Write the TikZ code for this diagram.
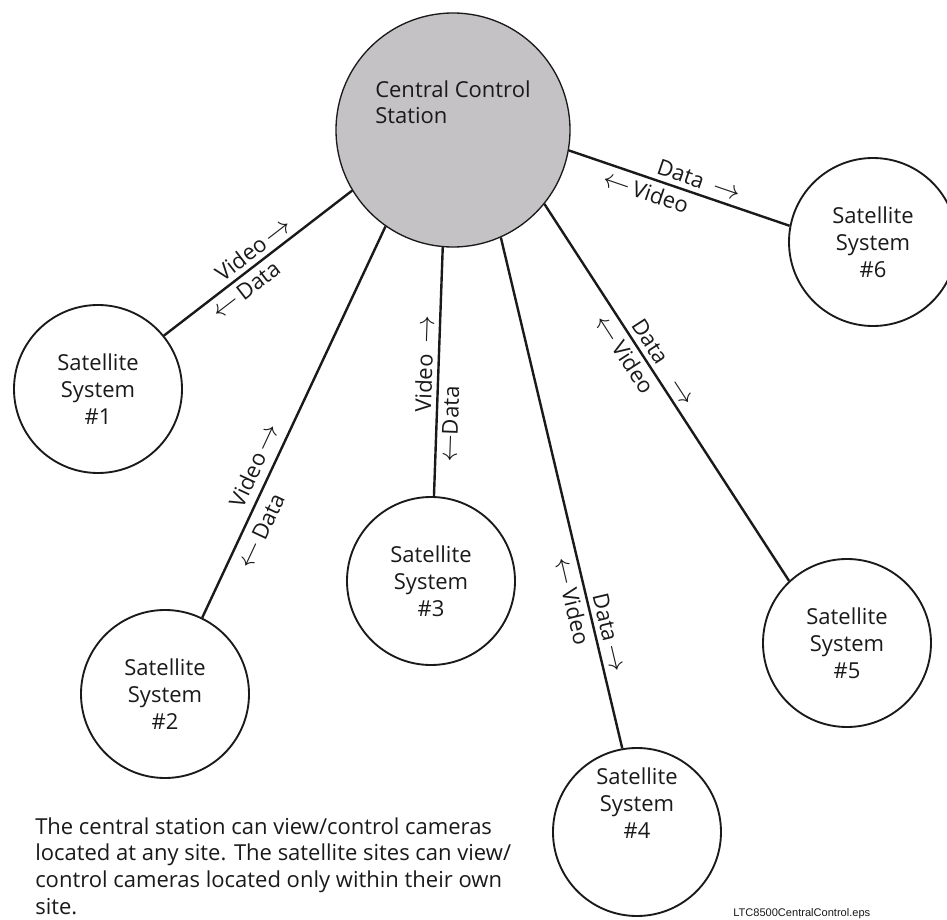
\documentclass[tikz,border=0pt]{standalone}
\usepackage{fontspec}
\setmainfont{Open Sans}
\newfontfamily\filefont{Liberation Sans}
\definecolor{ink}{RGB}{26,26,26}
\definecolor{stationgray}{RGB}{196,194,196}
\newcommand\myrarrow{{\fontsize{19.5}{20}\selectfont$\rightarrow$}}
\newcommand\mylarrow{{\fontsize{19.5}{20}\selectfont$\leftarrow$}}
\begin{document}
\begin{tikzpicture}[x=0.75pt,y=-0.75pt,
  every node/.style={text=ink},
  satfont/.style={align=center,font=\fontsize{16.5}{20.3}\selectfont},
  sat/.style={circle,draw=ink,line width=1.4pt,fill=white,minimum size=126pt,inner sep=0pt,satfont},
  central/.style={circle,draw=ink,line width=1pt,fill=stationgray,minimum size=175.5pt,inner sep=0pt},
  link/.style={draw=ink,line width=1.8pt},
  lbl/.style={sloped,inner sep=3.5pt,font=\fontsize{16.5}{20}\selectfont},
  txt/.style={anchor=base west,align=left,inner sep=0pt,font=\fontsize{16.5}{20}\selectfont},
]
\useasboundingbox (0,0) rectangle (947,920);
\fill[white] (0,0) rectangle (947,920);

\node[central] (cc) at (453,130) {};
\node[txt] (cct) at (375,124) {Central Control\\Station};

\node[sat] (s1) at (98,389) {Satellite\\System\\\#1};
\node[sat] (s2) at (165,694) {Satellite\\System\\\#2};
\node[sat] (s3) at (431,581) {Satellite\\System\\\#3};
\node[sat] (s4) at (637,832) {};
\node[satfont,inner sep=0pt] (s4t) at (637,803) {Satellite\\System\\\#4};
\node[sat] (s5) at (847,643) {Satellite\\System\\\#5};
\node[sat] (s6) at (873,242) {Satellite\\System\\\#6};

\draw[link] (s1.39.7) -- node[lbl,pos=0.52,above]{Video\,\myrarrow} node[lbl,pos=0.39,below]{\mylarrow\,Data} (cc.211);
\draw[link] (s2.64.7) -- node[lbl,pos=0.37,above,inner sep=6pt]{Video\,\myrarrow} node[lbl,pos=0.24,below,inner sep=6pt]{\mylarrow\,Data} (cc.235);
\draw[link] (s3.88) -- node[lbl,pos=0.53,above]{Video\enspace\myrarrow} node[lbl,pos=0.29,below]{\mylarrow Data} (cc.265);
\draw[link] (cc.294) -- node[lbl,pos=0.78,above]{Data\,\myrarrow} node[lbl,pos=0.705,below]{\mylarrow\,Video} (s4.100.6);
\draw[link] (cc.321) -- node[lbl,pos=0.44,above]{Data\quad\myrarrow} node[lbl,pos=0.377,below]{\mylarrow\,Video} (s5.133);
\draw[link] (cc.350) -- node[lbl,pos=0.57,above]{Data\enspace\myrarrow} node[lbl,pos=0.37,below]{\mylarrow\,Video} (s6.169);

\node[txt] (note) at (35,914) {The central station can view/control cameras\\located at any site. The satellite sites can view/\\control cameras located only within their own\\site.};
\node[anchor=base west,inner sep=0pt,font=\filefont\fontsize{8.3}{10}\selectfont] (file) at (733,916) {LTC8500CentralControl.eps};
\end{tikzpicture}
\end{document}
